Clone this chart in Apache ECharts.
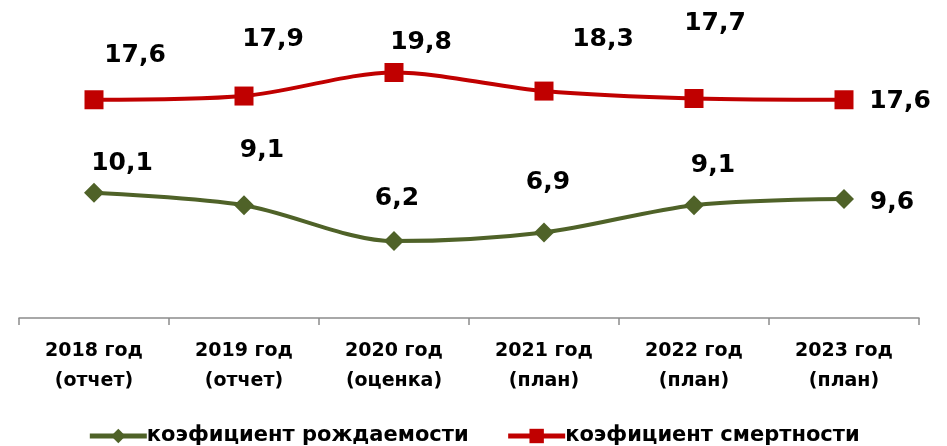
<!DOCTYPE html>
<html><head><meta charset="utf-8">
<script src="https://cdn.jsdelivr.net/npm/echarts@6/dist/echarts.min.js"></script>
<style>html,body{margin:0;padding:0;background:#fff}#c{width:947px;height:446px}</style>
</head><body><div id="c"></div>
<script>
const categories = ['2018 год\n(отчет)','2019 год\n(отчет)','2020 год\n(оценка)','2021 год\n(план)','2022 год\n(план)','2023 год\n(план)'];
const birthName = 'коэфициент рождаемости';
const deathName = 'коэфициент смертности';
const birthValues = [10.1, 9.1, 6.2, 6.9, 9.1, 9.6];
const deathValues = [17.6, 17.9, 19.8, 18.3, 17.7, 17.6];
// label offsets (style only)
const birthLabelOffsets = [[28,-29],[18,-55],[3,-43],[4,-50],[19,-40],[48,4]];
const deathLabelOffsets = [[41,-44],[29,-57],[27,-30],[59,-52],[21,-75],[56,2]];

const FONT = '"DejaVu Sans", sans-serif';
const GREEN = '#4F6228', RED = '#C00000';
function fmt(v){ return String(v).replace('.', ','); }
function build(values, offsets){
  return values.map((v,i)=>({value:v, label:{offset:offsets[i]}}));
}
const chart = echarts.init(document.getElementById('c'));
chart.setOption({
  animation:false,
  grid:{left:19,right:28,top:8,bottom:128,containLabel:false},
  xAxis:{type:'category',data:categories,boundaryGap:true,
    axisLine:{lineStyle:{color:'#8c8c8c',width:1.5}},
    axisTick:{show:true,length:7,lineStyle:{color:'#8c8c8c',width:1.5}},
    axisLabel:{color:'#000',fontFamily:FONT,fontWeight:'bold',fontSize:19,lineHeight:30,margin:18,interval:0}},
  yAxis:{type:'value',min:0,max:25,show:false,splitLine:{show:false}},
  legend:{top:420,left:'center',itemWidth:57,itemHeight:18,itemGap:37,
    textStyle:{color:'#000',fontFamily:FONT,fontWeight:'bold',fontSize:21,lineHeight:22,padding:[0,0,0,-5]},
    data:[
      {name:birthName,lineStyle:{width:5,color:GREEN}},
      {name:deathName,lineStyle:{width:5,color:RED}}
    ]},
  series:[
    {name:birthName,type:'line',smooth:0.3,data:build(birthValues,birthLabelOffsets),
     symbol:'diamond',symbolSize:20,
     lineStyle:{color:GREEN,width:4},itemStyle:{color:GREEN},
     label:{show:true,position:'inside',color:'#000',fontFamily:FONT,fontWeight:'bold',fontSize:25,
       formatter:p=>fmt(p.value)}},
    {name:deathName,type:'line',smooth:0.3,data:build(deathValues,deathLabelOffsets),
     symbol:'rect',symbolSize:19,
     lineStyle:{color:RED,width:4},itemStyle:{color:RED},
     label:{show:true,position:'inside',color:'#000',fontFamily:FONT,fontWeight:'bold',fontSize:25,
       formatter:p=>fmt(p.value)}}
  ]
});
</script></body></html>
